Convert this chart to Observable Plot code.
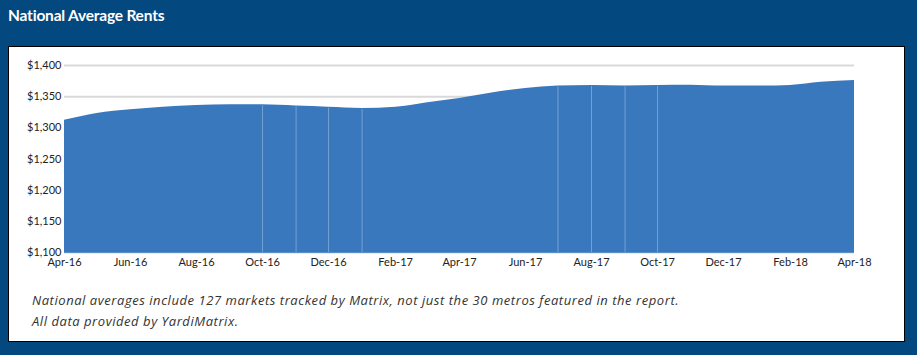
<!DOCTYPE html>
<html>
<head>
<meta charset="utf-8">
<script src="https://cdn.jsdelivr.net/npm/d3@7"></script>
<script src="https://cdn.jsdelivr.net/npm/@observablehq/plot@0.6"></script>
<style>
  html, body { margin: 0; padding: 0; }
  body { width: 917px; height: 355px; background: #03497f; position: relative; overflow: hidden; font-family: Lato, "Open Sans", sans-serif; }
  #title { position: absolute; left: 8px; top: 6px; color: #fff; font: 700 15.5px Lato, sans-serif; letter-spacing: -0.2px; }
  #panel { position: absolute; left: 8px; top: 46px; width: 895px; height: 294px; background: #fff; border: 1px solid #000; }
  #chart { position: absolute; left: 0; top: 0; }
  #caption { position: absolute; left: 23px; top: 243px; font: italic 13px "Open Sans", sans-serif; color: #333; line-height: 21px; white-space: nowrap; letter-spacing: 0.55px; }
</style>
</head>
<body>
<div id="title">National Average Rents</div>
<div id="panel">
  <div id="chart"></div>
  <div id="caption">National averages include 127 markets tracked by Matrix, not just the 30 metros featured in the report.<br>All data provided by YardiMatrix.</div>
</div>
<script>
const months = ["2016-04","2016-05","2016-06","2016-07","2016-08","2016-09","2016-10","2016-11","2016-12",
  "2017-01","2017-02","2017-03","2017-04","2017-05","2017-06","2017-07","2017-08","2017-09","2017-10","2017-11","2017-12",
  "2018-01","2018-02","2018-03","2018-04"];
const rents = [1312,1323,1329,1333,1336,1337,1337,1335,1333,
  1331,1333,1340,1347,1356,1363,1367,1368,1367,1368,1368.5,1367,
  1367,1368,1373,1376];
const seamMonths = ["2016-10","2016-11","2016-12","2017-01","2017-07","2017-08","2017-09","2017-10"];
const yTicks = [1100,1150,1200,1250,1300,1350,1400];
const xTickMonths = ["2016-04","2016-06","2016-08","2016-10","2016-12","2017-02","2017-04","2017-06","2017-08","2017-10","2017-12","2018-02","2018-04"];

const parse = d3.utcParse("%Y-%m");
const data = months.map((m, i) => ({date: parse(m), value: rents[i]}));
const byMonth = new Map(months.map((m, i) => [m, rents[i]]));
const seams = seamMonths.map(m => ({date: parse(m), value: byMonth.get(m) - 1.5}));

const chart = Plot.plot({
  width: 880,
  height: 232,
  marginLeft: 55,
  marginRight: 35,
  marginTop: 18,
  marginBottom: 27,
  style: {fontFamily: "Lato, sans-serif", fontSize: "11px", color: "#222", background: "transparent"},
  x: {type: "utc", domain: [parse(months[0]), parse(months[months.length - 1])]},
  y: {domain: [1100, 1400]},
  marks: [
    Plot.ruleY(yTicks, {stroke: "#d9d9d9", strokeWidth: 2}),
    Plot.areaY(data, {x: "date", y1: 1100, y2: "value", fill: "#3a78bd", curve: "monotone-x"}),
    Plot.ruleX(seams, {x: "date", y1: 1100, y2: "value", stroke: "#8fb2dc", strokeWidth: 1, strokeOpacity: 0.7}),
    Plot.ruleY([1100], {stroke: "#5b8fcc", strokeWidth: 1}),
    Plot.axisY(yTicks, {tickSize: 0, tickPadding: 3, tickFormat: d3.format("$,"), fontSize: 11, label: null}),
    Plot.axisX(xTickMonths.map(parse), {tickSize: 0, tickPadding: 6, tickFormat: d3.utcFormat("%b-%y"), fontSize: 11, label: null})
  ]
});
document.getElementById("chart").appendChild(chart);
</script>
</body>
</html>
